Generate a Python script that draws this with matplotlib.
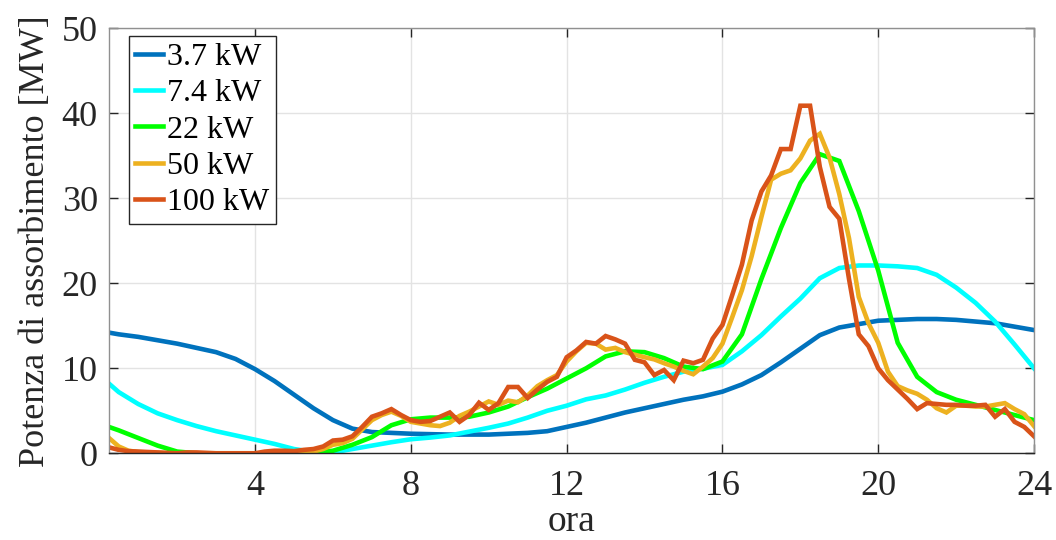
import numpy as np
import matplotlib
matplotlib.use('Agg')
import matplotlib.pyplot as plt

# time axis: half-hour points for smooth profiles, quarter-hour for noisy ones
ore_mezze = np.concatenate(([0.25], np.arange(0.5, 24.01, 0.5)))
ore_quarti = np.arange(0.25, 24.01, 0.25)

p_3_7 = [14.2, 14.0, 13.7, 13.3, 12.9, 12.4, 11.9, 11.1, 9.9, 8.5,
         6.9, 5.3, 3.9, 2.9, 2.5, 2.4, 2.3, 2.25, 2.2, 2.2,
         2.2, 2.3, 2.4, 2.6, 3.1, 3.6, 4.2, 4.8, 5.3, 5.8,
         6.3, 6.7, 7.25, 8.1, 9.2, 10.7, 12.3, 13.9, 14.8, 15.2,
         15.6, 15.7, 15.8, 15.8, 15.7, 15.5, 15.3, 14.9, 14.5]

p_7_4 = [8.2, 7.2, 5.8, 4.7, 3.9, 3.2, 2.6, 2.1, 1.6, 1.1,
         0.5, 0.15, 0.1, 0.5, 0.9, 1.3, 1.65, 1.85, 2.1, 2.55,
         3.0, 3.5, 4.2, 5.0, 5.6, 6.35, 6.8, 7.5, 8.3, 9.0,
         9.6, 9.95, 10.4, 12.0, 13.9, 16.1, 18.2, 20.6, 21.8, 22.1,
         22.1, 22.0, 21.8, 21.0, 19.5, 17.7, 15.5, 12.8, 10.0]

p_22 = [3.1, 2.7, 1.8, 0.9, 0.2, 0.0, 0.0, 0.0, 0.0, 0.0,
        0.0, 0.05, 0.3, 1.0, 1.9, 3.3, 4.0, 4.2, 4.2, 4.3,
        4.8, 5.5, 6.6, 7.6, 8.8, 10.0, 11.4, 12.0, 11.9, 11.2,
        10.2, 9.9, 10.8, 14.0, 20.5, 26.5, 31.8, 35.2, 34.4, 28.5,
        21.5, 13.0, 9.0, 7.2, 6.3, 5.7, 5.1, 4.5, 3.9]

p_50 = [1.8, 0.8, 0.3, 0.15, 0.1, 0.05, 0.0, 0.0, 0.0, 0.0,
        0.0, 0.0, 0.0, 0.0, 0.0, 0.0, 0.0, 0.0, 0.0, 0.0,
        0.1, 0.2, 0.5, 1.0, 1.2, 1.7, 2.8, 3.9, 4.5, 4.9,
        4.4, 3.7, 3.5, 3.3, 3.2, 3.6, 4.4, 4.9, 5.5, 6.1,
        5.7, 6.2, 6.0, 6.8, 7.9, 8.6, 9.2, 10.8, 12.0, 13.0,
        12.9, 12.2, 12.4, 11.9, 11.6, 11.3, 11.05, 10.6, 10.2, 9.7,
        9.3, 10.2, 11.2, 12.9, 16.0, 19.2, 23.2, 27.8, 32.2, 32.9,
        33.3, 34.7, 36.8, 37.6, 34.8, 30.5, 25.3, 18.4, 15.3, 13.0,
        9.6, 7.9, 7.4, 7.0, 6.3, 5.3, 4.8, 5.6, 5.6, 5.5,
        5.5, 5.7, 5.9, 5.2, 4.6, 3.2]

p_100 = [0.7, 0.4, 0.25, 0.2, 0.15, 0.1, 0.05, 0.0, 0.1, 0.1,
         0.05, 0.0, 0.0, 0.0, 0.0, 0.0, 0.2, 0.3, 0.3, 0.25,
         0.4, 0.5, 0.8, 1.5, 1.6, 2.0, 3.1, 4.3, 4.7, 5.2,
         4.5, 3.9, 3.7, 3.8, 4.3, 4.8, 3.7, 4.5, 5.95, 5.1,
         5.9, 7.8, 7.8, 6.5, 7.5, 8.4, 9.0, 11.3, 12.1, 13.1,
         12.9, 13.8, 13.4, 12.9, 11.0, 10.7, 9.2, 9.8, 8.6, 10.9,
         10.6, 11.0, 13.5, 15.1, 18.6, 22.2, 27.4, 30.8, 32.7, 35.8,
         35.8, 40.9, 40.9, 33.7, 29.0, 27.6, 20.5, 14.0, 12.6, 10.0,
         8.6, 7.5, 6.4, 5.2, 5.9, 5.8, 5.7, 5.7, 5.6, 5.6,
         5.7, 4.3, 5.2, 3.7, 3.1, 2.0]

serie = [
    (ore_mezze, p_3_7, '3.7 kW', '#0072BD'),
    (ore_mezze, p_7_4, '7.4 kW', '#00FFFF'),
    (ore_mezze, p_22, '22 kW', '#00FF00'),
    (ore_quarti, p_50, '50 kW', '#EDB120'),
    (ore_quarti, p_100, '100 kW', '#D95319'),
]

plt.rcParams['font.family'] = ['Liberation Serif', 'DejaVu Serif']

fig = plt.figure(figsize=(10.56, 5.40), dpi=100)
ax = fig.add_axes([0.1032, 0.1606, 0.8760, 0.7868])

for x, y, nome, colore in serie:
    ax.plot(x, y, color=colore, linewidth=3.3, label=nome, solid_joinstyle='miter')

ax.set_xlim(0.25, 24)
ax.set_ylim(0, 50)
ax.set_xticks([4, 8, 12, 16, 20, 24])
ax.set_yticks([0, 10, 20, 30, 40, 50])
ax.grid(True, color='#e3e3e3', linewidth=1.0)
ax.set_axisbelow(True)

ax.tick_params(direction='in', length=6.5, width=1.0, colors='#262626',
               labelsize=26, top=True, right=True)
ax.tick_params(axis='x', pad=12)
ax.tick_params(axis='y', pad=8)
for lato in ['top', 'right', 'left']:
    ax.spines[lato].set_color('#909090')
ax.spines['bottom'].set_color('#262626')
for sp in ax.spines.values():
    sp.set_linewidth(1.0)

ax.set_xlabel('ora', fontsize=27, color='#262626')
ax.xaxis.label.set_va('center')
ax.xaxis.set_label_coords(0.5, -0.162)
ax.set_ylabel('Potenza di assorbimento [MW]', fontsize=26, color='#262626', labelpad=7)

leg = ax.legend(loc='upper left', bbox_to_anchor=(0.0216, 0.982), borderaxespad=0,
                fontsize=23, handlelength=0.85, handletextpad=0.15,
                borderpad=0.2, labelspacing=0.22, fancybox=False,
                framealpha=1.0, edgecolor='#262626')
leg.get_frame().set_linewidth(1.0)

fig.savefig('out.png', dpi=100)
